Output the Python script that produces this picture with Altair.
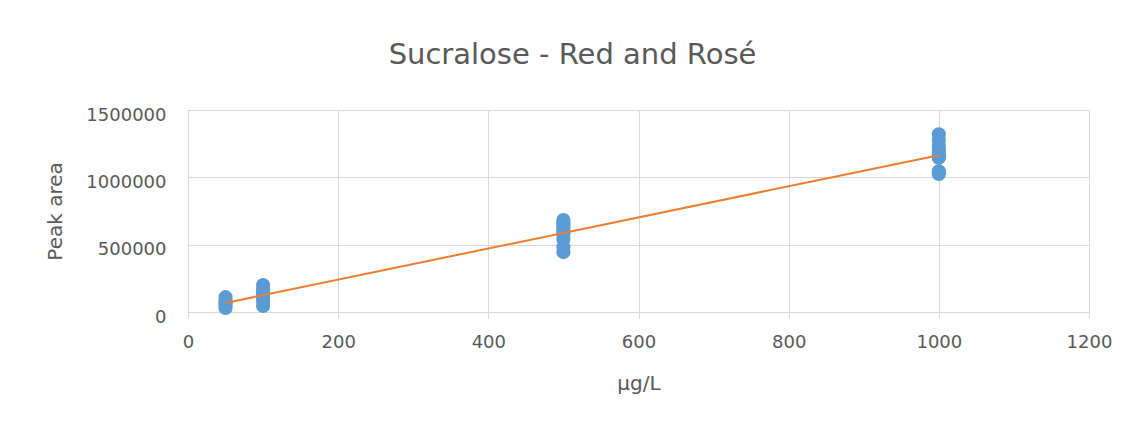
import altair as alt
import pandas as pd

# Concentration levels (µg/L) and replicate peak areas
conc_50 = [30000, 50000, 65000, 80000, 110000]
conc_100 = [45000, 80000, 105000, 130000, 145000, 170000, 200000]
conc_500 = [445000, 480000, 540000, 580000, 590000, 610000, 630000, 650000,
            665000, 683000]
conc_1000 = [1025000, 1035000, 1045000, 1145000, 1150000, 1160000, 1175000,
             1190000, 1210000, 1240000, 1280000, 1320000]

levels = [50, 100, 500, 1000]
areas = [conc_50, conc_100, conc_500, conc_1000]

x_ticks = [0, 200, 400, 600, 800, 1000, 1200]
y_ticks = [0, 500000, 1000000, 1500000]

rows = []
for lvl, vals in zip(levels, areas):
    for v in vals:
        rows.append({"conc": lvl, "area": v})
df = pd.DataFrame(rows)

FONT = "DejaVu Sans"
TXT = "#595959"
GRID = "#D9D9D9"

x_enc = alt.X("conc:Q",
              scale=alt.Scale(domain=[0, 1200], nice=False),
              axis=alt.Axis(values=x_ticks, title="μg/L", grid=True, format="d",
                            labelFlush=False,
                            gridColor=GRID, domainColor=GRID, tickColor=GRID,
                            tickSize=6, labelPadding=15, labelFontSize=18,
                            labelFont=FONT, labelColor=TXT, titleFont=FONT,
                            titleFontSize=20, titleColor=TXT,
                            titleFontWeight="normal", titlePadding=22))
y_enc = alt.Y("area:Q",
              scale=alt.Scale(domain=[0, 1500000], nice=False),
              axis=alt.Axis(values=y_ticks, title="Peak area", grid=True,
                            gridColor=GRID, domainColor=GRID, ticks=False,
                            labelPadding=22, labelOffset=5, labelFontSize=18,
                            labelFont=FONT, labelColor=TXT, format="d",
                            labelFlush=False,
                            titleFont=FONT, titleFontSize=20, titleColor=TXT,
                            titleFontWeight="normal", titlePadding=20))

points = alt.Chart(df).mark_circle(size=200, opacity=1, color="#5B9BD5").encode(
    x=x_enc, y=y_enc)

trend = alt.Chart(df).transform_regression("conc", "area").mark_line(
    color="#ED7D31", strokeWidth=2).encode(x="conc:Q", y="area:Q")

chart = alt.layer(points, trend).properties(
    width=901, height=202,
    title=alt.TitleParams("Sucralose - Red and Rosé", font=FONT, fontSize=29,
                          color=TXT, fontWeight="normal", anchor="middle",
                          dx=-66, offset=36),
    autosize=alt.AutoSizeParams(type="none"),
    padding={"left": 180, "top": 102, "right": 37, "bottom": 117},
).configure_view(stroke=None).configure(background="white")

chart.save("out.html", embed_options={"renderer": "svg", "actions": False})
